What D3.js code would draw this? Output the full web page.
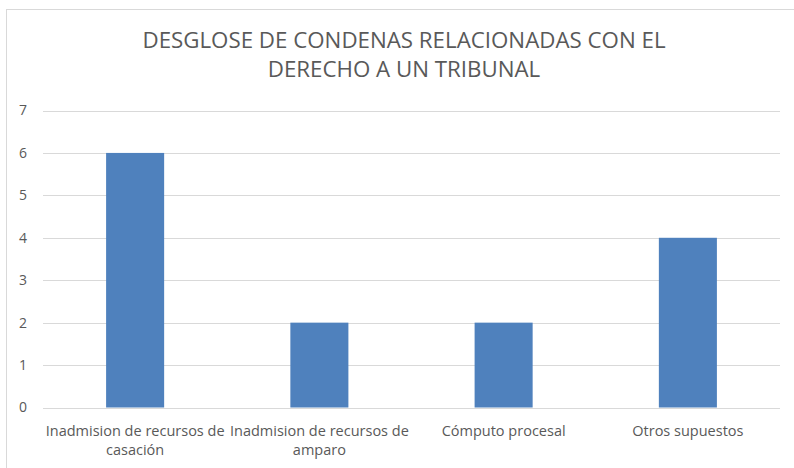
<!DOCTYPE html>
<html>
<head>
<meta charset="utf-8">
<script src="https://cdn.jsdelivr.net/npm/d3@7"></script>
<style>
  body { margin: 0; background: #fff; }
  svg text { font-family: "Open Sans", sans-serif; fill: #595959; }
</style>
</head>
<body>
<div id="chart"></div>
<script>
var categories = [
  ["Inadmision de recursos de", "casación"],
  ["Inadmision de recursos de", "amparo"],
  ["Cómputo procesal"],
  ["Otros supuestos"]
];
var values = [6, 2, 2, 4];
var yTicks = [0, 1, 2, 3, 4, 5, 6, 7];
var titleLines = ["DESGLOSE DE CONDENAS RELACIONADAS CON EL", "DERECHO A UN TRIBUNAL"];

var W = 794, H = 468,
    plotLeft = 43, plotRight = 780, plotTop = 110.5, plotBottom = 407.5;

var svg = d3.select("#chart").append("svg")
  .attr("width", W)
  .attr("height", H);

// chart frame
svg.append("rect")
  .attr("x", 6.5).attr("y", 9.5)
  .attr("width", W + 10).attr("height", H + 10)
  .style("fill", "none")
  .style("stroke", "#d9d9d9");

var x = d3.scaleBand()
  .domain(d3.range(categories.length))
  .range([plotLeft, plotRight])
  .paddingInner(0.685)
  .paddingOuter(0.3425);

var y = d3.scaleLinear()
  .domain([0, 7])
  .range([plotBottom, plotTop]);

/* title */
svg.selectAll(".title")
  .data(titleLines)
  .enter().append("text")
  .attr("class", "title")
  .attr("x", 404)
  .attr("y", function(d, i) { return 47.5 + i * 29.5; })
  .attr("text-anchor", "middle")
  .style("font-size", "22.3px")
  .text(function(d) { return d; });

/* gridlines */
svg.selectAll(".grid")
  .data(yTicks)
  .enter().append("line")
  .attr("class", "grid")
  .attr("x1", plotLeft).attr("x2", plotRight)
  .attr("y1", function(d) { return Math.round(y(d)) + 0.5; })
  .attr("y2", function(d) { return Math.round(y(d)) + 0.5; })
  .style("stroke", "#d9d9d9")
  .style("stroke-width", 1);

/* y labels */
svg.selectAll(".ylabel")
  .data(yTicks)
  .enter().append("text")
  .attr("class", "ylabel")
  .attr("x", 27)
  .attr("y", function(d) { return y(d); })
  .attr("dy", "0.35em")
  .attr("text-anchor", "end")
  .style("font-size", "14px")
  .text(function(d) { return d; });

/* bars */
svg.selectAll(".bar")
  .data(values)
  .enter().append("rect")
  .attr("class", "bar")
  .attr("x", function(d, i) { return x(i); })
  .attr("y", function(d) { return y(d); })
  .attr("width", x.bandwidth())
  .attr("height", function(d) { return y(0) - y(d); })
  .style("fill", "#4f81bd");

/* x labels */
var xl = svg.selectAll(".xlabel")
  .data(categories)
  .enter().append("text")
  .attr("class", "xlabel")
  .attr("x", function(d, i) { return x(i) + x.bandwidth() / 2; })
  .attr("y", 436)
  .attr("text-anchor", "middle")
  .style("font-size", "14.5px");

xl.selectAll("tspan")
  .data(function(d) { return d; })
  .enter().append("tspan")
  .attr("x", function() { return d3.select(this.parentNode).attr("x"); })
  .attr("dy", function(d, i) { return i == 0 ? 0 : 19; })
  .text(function(d) { return d; });
</script>
</body>
</html>
